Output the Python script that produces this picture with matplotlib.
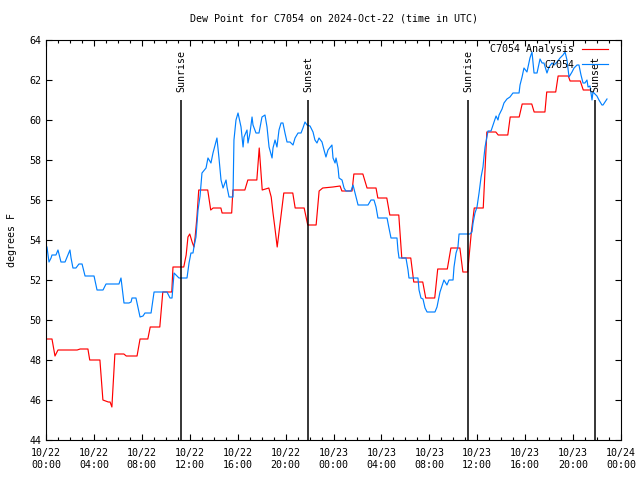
import numpy as np
import matplotlib
matplotlib.use("Agg")
import matplotlib.pyplot as plt
from matplotlib.ticker import MultipleLocator

# hours since 2024-10-22 00:00 UTC
analysis_h = [0.0, 0.5, 0.75, 1.0, 2.6, 2.85, 3.5, 3.65, 4.5, 4.75, 5.2, 5.35, 5.5, 5.75,
              6.5, 6.7, 7.6, 7.85, 8.5, 8.7, 9.5, 9.75, 10.5, 10.6, 11.5, 11.7, 11.85,
              12.0, 12.2, 12.35, 12.45, 12.6, 12.75, 13.5, 13.75, 13.95, 14.6, 14.7, 15.5,
              15.6, 16.6, 16.85, 17.6, 17.8, 18.05, 18.6, 18.8, 18.95, 19.1, 19.3, 19.85,
              20.6, 20.8, 21.55, 21.85, 22.55, 22.8, 23.1, 23.95, 24.55, 24.7, 25.55, 25.7,
              26.45, 26.8, 27.55, 27.7, 28.45, 28.7, 29.45, 29.7, 30.45, 30.7, 31.45, 31.7,
              32.45, 32.7, 33.5, 33.8, 34.55, 34.8, 35.2, 35.5, 35.75, 36.5, 36.8, 37.55,
              37.75, 38.55, 38.75, 39.5, 39.75, 40.55, 40.75, 41.65, 41.8, 42.55, 42.75,
              43.6, 43.75, 44.6, 44.85, 45.4]
analysis_v = [49.05, 49.05, 48.2, 48.5, 48.5, 48.55, 48.55, 48.0, 48.0, 46.0, 45.9, 45.9,
              45.65, 48.3, 48.3, 48.2, 48.2, 49.05, 49.05, 49.65, 49.65, 51.4, 51.4, 52.65,
              52.65, 53.25, 54.15, 54.3, 53.9, 53.65, 54.15, 55.15, 56.5, 56.5, 55.5, 55.6,
              55.6, 55.35, 55.35, 56.5, 56.5, 57.0, 57.0, 58.6, 56.5, 56.6, 56.15, 55.35,
              54.65, 53.65, 56.35, 56.35, 55.6, 55.6, 54.75, 54.75, 56.45, 56.6, 56.65,
              56.7, 56.45, 56.45, 57.3, 57.3, 56.6, 56.6, 56.1, 56.1, 55.25, 55.25, 53.1,
              53.1, 51.9, 51.9, 51.1, 51.1, 52.55, 52.55, 53.6, 53.6, 52.4, 52.4, 54.35,
              55.6, 55.6, 59.4, 59.4, 59.25, 59.25, 60.15, 60.15, 60.8, 60.8, 60.4, 60.4,
              61.4, 61.4, 62.2, 62.2, 61.95, 61.95, 61.5, 61.5]

station_h = [0.08, 0.25, 0.42, 0.50, 0.83, 1.00, 1.25, 1.59, 2.00, 2.09, 2.25, 2.50, 2.75,
             3.01, 3.26, 4.01, 4.26, 4.76, 5.01, 6.09, 6.26, 6.51, 6.93, 7.10, 7.18, 7.51,
             7.85, 8.10, 8.26, 8.77, 9.02, 10.10, 10.35, 10.52, 10.69, 11.10, 11.77, 11.94,
             12.10, 12.27, 12.35, 12.52, 12.69, 12.86, 13.02, 13.36, 13.52, 13.77, 13.94,
             14.27, 14.44, 14.61, 14.78, 15.03, 15.11, 15.28, 15.61, 15.69, 15.86, 16.03,
             16.28, 16.45, 16.53, 16.78, 16.86, 17.03, 17.20, 17.28, 17.53, 17.78, 18.03,
             18.28, 18.45, 18.62, 18.87, 18.95, 19.12, 19.28, 19.45, 19.62, 19.78, 19.95,
             20.12, 20.37, 20.62, 20.79, 21.04, 21.29, 21.45, 21.62, 21.79, 22.04, 22.29,
             22.45, 22.62, 22.79, 23.04, 23.21, 23.37, 23.54, 23.87, 23.96, 24.13, 24.21,
             24.38, 24.46, 24.71, 24.88, 25.04, 25.46, 25.63, 25.88, 26.05, 26.88, 27.13,
             27.38, 27.55, 27.71, 28.47, 28.63, 28.80, 29.30, 29.38, 29.47, 30.05, 30.22,
             30.30, 31.05, 31.14, 31.30, 31.47, 31.64, 31.81, 32.47, 32.64, 32.89, 33.14,
             33.22, 33.47, 33.64, 33.98, 34.06, 34.23, 34.39, 34.48, 35.39, 35.56, 35.65,
             35.81, 35.98, 36.15, 36.32, 36.48, 36.56, 36.65, 36.81, 36.90, 37.15, 37.40,
             37.57, 37.73, 37.82, 38.07, 38.23, 38.48, 38.73, 38.98, 39.49, 39.57, 39.74,
             39.90, 40.15, 40.40, 40.57, 40.74, 40.99, 41.24, 41.41, 41.57, 41.82, 41.99,
             42.24, 42.41, 42.66, 42.91, 43.16, 43.33, 43.49, 43.66, 43.91, 44.08, 44.33,
             44.49, 44.66, 44.83, 44.99, 45.16, 45.25, 45.41, 45.58, 45.66, 45.99, 46.16,
             46.41, 46.50, 46.66, 46.83]
station_v = [53.65, 52.9, 53.1, 53.25, 53.25, 53.5, 52.9, 52.9, 53.5, 53.1, 52.6, 52.6, 52.8,
             52.8, 52.2, 52.2, 51.5, 51.5, 51.8, 51.8, 52.1, 50.85, 50.85, 50.9, 51.1, 51.1,
             50.15, 50.2, 50.35, 50.35, 51.4, 51.4, 51.1, 51.1, 52.35, 52.1, 52.1, 52.85,
             53.35, 53.35, 53.65, 54.15, 55.5, 56.2, 57.35, 57.6, 58.1, 57.85, 58.35, 59.1,
             58.1, 57.0, 56.6, 57.0, 56.65, 56.15, 56.15, 59.0, 60.0, 60.35, 59.65, 58.65,
             59.15, 59.5, 58.85, 59.35, 60.15, 59.75, 59.35, 59.35, 60.15, 60.25, 59.65,
             58.65, 58.1, 58.6, 59.0, 58.65, 59.5, 59.85, 59.85, 59.35, 58.9, 58.9, 58.75,
             59.1, 59.35, 59.35, 59.6, 59.9, 59.75, 59.7, 59.4, 59.0, 58.85, 59.1, 58.9,
             58.5, 58.15, 58.5, 58.75, 58.1, 57.85, 58.1, 57.6, 57.1, 57.0, 56.6, 56.45,
             56.45, 56.75, 56.15, 55.75, 55.75, 56.0, 56.0, 55.65, 55.1, 55.1, 54.6, 54.1,
             54.1, 53.5, 53.1, 53.1, 52.5, 52.1, 52.1, 51.5, 51.1, 51.05, 50.6, 50.4, 50.4,
             50.65, 51.4, 51.85, 52.0, 51.75, 52.0, 52.0, 52.65, 53.35, 53.65, 54.3, 54.3,
             54.4, 54.85, 55.35, 55.65, 56.35, 57.15, 57.65, 58.15, 58.65, 59.15, 59.45,
             59.45, 59.9, 60.2, 60.0, 60.25, 60.55, 60.85, 61.05, 61.15, 61.35, 61.35,
             61.75, 62.15, 62.6, 62.4, 63.1, 63.4, 62.35, 62.35, 63.05, 62.85, 62.85, 62.35,
             62.65, 62.85, 62.75, 62.9, 63.1, 63.25, 63.4, 63.0, 62.15, 62.4, 62.6, 62.75,
             62.75, 62.25, 61.85, 61.85, 62.0, 61.65, 61.7, 61.0, 61.4, 61.2, 61.0, 60.75,
             60.75, 60.9, 61.05]

sun_h = [11.29, 21.89, 35.24, 45.85]
sun_labels = ["Sunrise", "Sunset", "Sunrise", "Sunset"]

tick_h = list(range(0, 49, 4))
tick_labels = ["10/22\n00:00", "10/22\n04:00", "10/22\n08:00", "10/22\n12:00",
               "10/22\n16:00", "10/22\n20:00", "10/23\n00:00", "10/23\n04:00",
               "10/23\n08:00", "10/23\n12:00", "10/23\n16:00", "10/23\n20:00",
               "10/24\n00:00"]

plt.rcParams["font.family"] = "DejaVu Sans Mono"
plt.rcParams["font.size"] = 7.2

fig = plt.figure(figsize=(6.4, 4.8), dpi=100)
ax = fig.add_axes([46 / 640, 1 - 440 / 480, 575 / 640, 400 / 480])

ax.plot(analysis_h, analysis_v, color="#ff0000", lw=0.85, label="C7054 Analysis")
ax.plot(station_h, station_v, color="#0080ff", lw=0.85, label="C7054")

for h, lab in zip(sun_h, sun_labels):
    ax.vlines(h, 44, 61, color="black", lw=1.1)
    ax.text(h, 61.4, lab, rotation=90, ha="center", va="bottom")

ax.set_xlim(0, 48)
ax.set_ylim(44, 64)
ax.set_xticks(tick_h)
ax.set_xticklabels(tick_labels)
ax.xaxis.set_minor_locator(MultipleLocator(1))
ax.set_yticks(np.arange(44, 65, 2))
ax.tick_params(which="both", direction="in", top=True, right=True, width=0.8)
ax.tick_params(which="major", length=4)
ax.tick_params(which="minor", length=2)
ax.tick_params(axis="x", pad=6)
for s in ax.spines.values():
    s.set_linewidth(0.8)

ax.set_ylabel("degrees F", labelpad=9)
ax.set_title("Dew Point for C7054 on 2024-Oct-22 (time in UTC)", fontsize=7.2, pad=13)

ax.legend(loc="upper right", bbox_to_anchor=(0.988, 1.005), frameon=False,
          markerfirst=False, handlelength=2.6, labelspacing=0.55, handletextpad=0.8,
          borderaxespad=0.2)

fig.savefig("out.png", dpi=100)
